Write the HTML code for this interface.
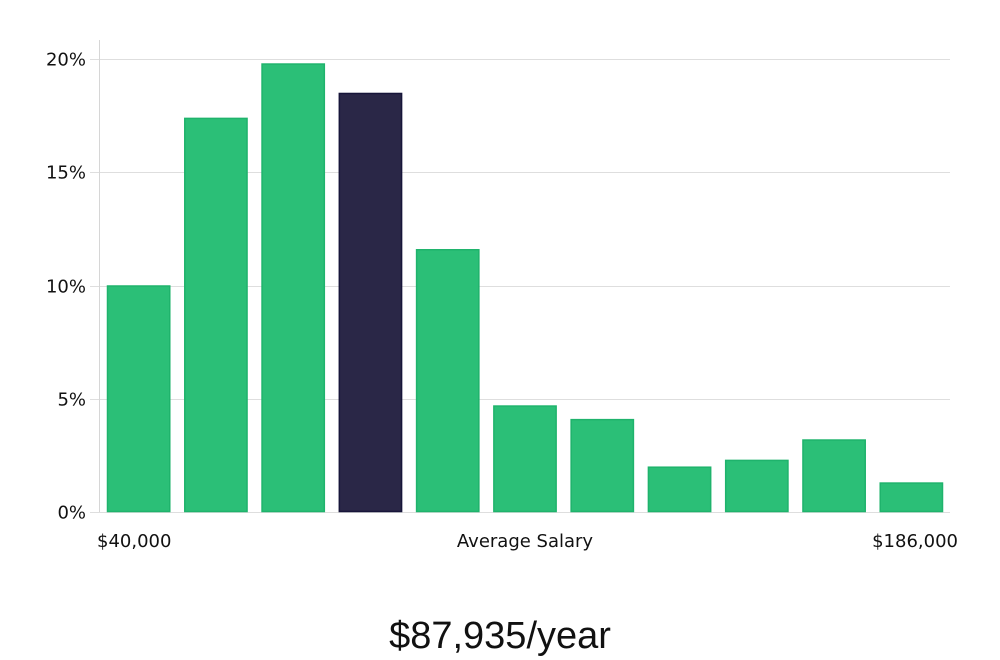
<!DOCTYPE html>
<html><head><meta charset="utf-8">
<style>
html,body{margin:0;padding:0;background:#fff;width:1000px;height:660px;overflow:hidden}
svg{display:block}
text{font-family:"DejaVu Sans","Liberation Sans",sans-serif;fill:#111}
</style></head>
<body>
<svg id="chart" width="1000" height="660" viewBox="0 0 1000 660">
  <g id="grid"></g>
  <line x1="99.5" y1="40" x2="99.5" y2="512" stroke="#d6d6d6" stroke-width="1"/>
  <g id="ticks"></g>
  <g id="bars"></g>
  <text x="97" y="547" font-size="18">$40,000</text>
  <text x="525" y="547" font-size="18" text-anchor="middle">Average Salary</text>
  <text x="958" y="547" font-size="18" text-anchor="end">$186,000</text>
  <text x="500" y="648" font-size="38" text-anchor="middle" style="font-family:'Liberation Sans',sans-serif;font-weight:300;fill:#111">$87,935/year</text>
</svg>
<script>
const categories = ["b1","b2","b3","b4","b5","b6","b7","b8","b9","b10","b11"];
const values = [10.0, 17.4, 19.8, 18.5, 11.6, 4.7, 4.1, 2.0, 2.3, 3.2, 1.3];
const highlightIndex = 3;
const tickValues = [0, 5, 10, 15, 20];
const tickLabels = ["0%", "5%", "10%", "15%", "20%"];

const NS = "http://www.w3.org/2000/svg";
const plotLeft = 100, plotRight = 950, y0 = 512, yTop = 59, yMax = 20;
const y = v => y0 - (v / yMax) * (y0 - yTop);
const band = (plotRight - plotLeft) / categories.length;
const x = i => plotLeft + i * band + 7;
const bw = band - 14;

const grid = document.getElementById('grid');
const ticks = document.getElementById('ticks');
tickValues.forEach((t, i) => {
  const yy = Math.round(y(t)) + 0.5;
  const l = document.createElementNS(NS, 'line');
  
  
  l.setAttribute('x1', 90); l.setAttribute('x2', 950);
  l.setAttribute('y1', yy); l.setAttribute('y2', yy);
  l.setAttribute('stroke', '#dedede'); l.setAttribute('stroke-width', 1);
  grid.appendChild(l);
  const tx = document.createElementNS(NS, 'text');
  
  
  tx.setAttribute('x', 86); tx.setAttribute('y', yy + 6);
  tx.setAttribute('text-anchor', 'end'); tx.setAttribute('font-size', 18);
  tx.textContent = tickLabels[i];
  ticks.appendChild(tx);
});

const bars = document.getElementById('bars');
values.forEach((v, i) => {
  const r = document.createElementNS(NS, 'rect');
  
  
  const hi = i === highlightIndex;
  r.setAttribute('x', x(i) + 0.5);
  r.setAttribute('y', y(v) + 0.5);
  r.setAttribute('width', bw - 1);
  r.setAttribute('height', y0 - y(v) - 1);
  r.setAttribute('fill', hi ? '#2a2747' : '#2bbf77');
  r.setAttribute('stroke', hi ? '#17153a' : '#1fb36c');
  r.setAttribute('stroke-width', 1.5);
  bars.appendChild(r);
});
</script>
</body></html>
